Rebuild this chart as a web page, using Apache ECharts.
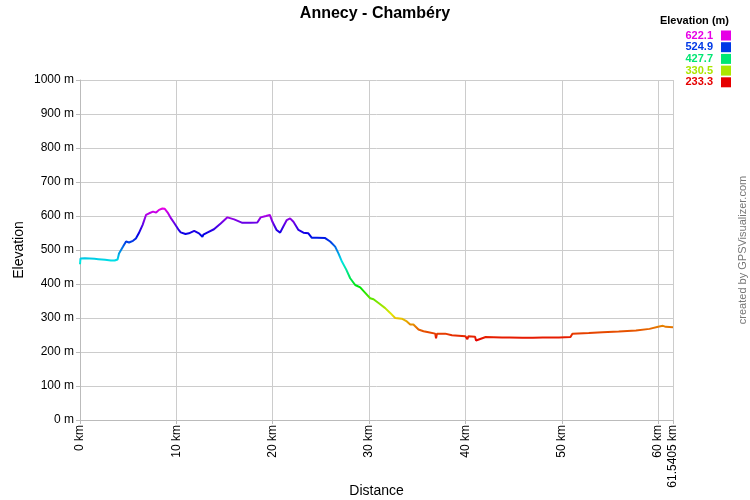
<!DOCTYPE html>
<html>
<head>
<meta charset="utf-8">
<script src="https://cdn.jsdelivr.net/npm/echarts@6/dist/echarts.min.js"></script>
<style>html,body{margin:0;padding:0;background:#fff}#c{width:750px;height:500px}</style>
</head>
<body>
<div id="c"></div>
<script>
const distanceKm = [0, 0.05, 0.5, 1.0, 1.5, 1.9, 2.0, 2.1, 2.6, 2.7, 2.8, 3.2, 3.6, 3.9, 4.05, 4.47, 4.78, 5.09, 5.5, 5.8, 6.1, 6.5, 6.85, 7.17, 7.58, 7.9, 8.2, 8.55, 8.8, 9.1, 9.45, 9.76, 10.2,
  10.45, 10.95, 11.3, 11.85, 12.35, 12.7, 12.8, 13.2, 13.9, 14.6, 15.3, 16.0, 16.85, 17.7, 18.4, 18.75, 19.3, 19.7, 19.97,
  20.07, 20.4, 20.77, 21.1, 21.46, 21.8, 22.15, 22.67, 23.19, 23.7, 24.06, 24.58, 25.44, 25.96, 26.48, 26.82, 27.18, 27.62, 28.04, 28.56, 29.08, 29.6, 30.11, 30.46,
  30.98, 31.67, 32.19, 32.71, 33.4, 33.92, 34.27, 34.6, 35.13, 35.65, 36.17, 36.86, 36.95, 37.05, 37.9, 38.6, 39.64, 40.0, 40.2, 40.3, 41.0, 41.1, 42.1, 43.8, 44.6, 44.7, 45.9, 47.0, 48.0, 49.7, 50.9,
  51.1, 52.8, 54.2, 55.9, 57.7, 59.1, 60.1, 60.5, 60.8, 61.5405];
const elevationM = [458, 475, 476, 475, 474, 473, 468, 474, 471, 466, 472, 469, 469, 472, 490, 510, 525, 522, 527, 534, 549, 574, 603, 608, 613, 610, 618, 622.1, 621, 610, 593, 580, 561,
  552, 547, 549, 556, 549, 539, 545, 551, 561, 578, 596, 590, 580, 580, 581, 596, 600, 603, 583,
  578, 559, 551, 569, 588, 593, 583, 559, 551, 549, 536, 536, 535, 525, 510, 490, 466, 443, 417, 397, 390, 374, 358, 355,
  344, 329, 315, 300, 298, 290, 281, 281, 266, 261, 258, 254, 240, 254, 254, 249, 247, 246, 238, 246, 245, 234, 244, 243, 243, 238, 242, 242, 243, 243, 244,
  254, 256, 258, 260, 263, 268, 275, 277, 274, 273];

const legendValues = [622.1, 524.9, 427.7, 330.5, 233.3];
const yTicks = [0, 100, 200, 300, 400, 500, 600, 700, 800, 900, 1000];
const xMax = 61.5405;

const hueColor = h => 'hsl(' + h + ',100%,45%)';
const rampColors = [];
for (let h = 0; h <= 300; h += 15) rampColors.push(hueColor(h));
const minE = legendValues[legendValues.length - 1], maxE = legendValues[0];
const legendColor = v => hueColor(Math.round(300 * (v - minE) / (maxE - minE)));

const data = distanceKm.map((d, i) => [d, elevationM[i]]);

const FONT = '"Liberation Sans", Arial, sans-serif';
const graphics = [
  { type: 'text', x: 729, y: 21, style: { text: 'Elevation (m)', font: 'bold 11px ' + FONT, fill: '#000', align: 'right', verticalAlign: 'middle' } }
];
legendValues.forEach((v, i) => {
  const yc = 35.5 + i * 11.7;
  graphics.push({ type: 'text', x: 713, y: yc, style: { text: v.toFixed(1), font: 'bold 11px ' + FONT, fill: legendColor(v), align: 'right', verticalAlign: 'middle' } });
  graphics.push({ type: 'rect', shape: { x: 721, y: yc - 5, width: 10, height: 10 }, style: { fill: legendColor(v) } });
});
graphics.push({ type: 'text', x: 748, y: 250, rotation: Math.PI / 2,
  style: { text: 'created by GPSVisualizer.com', font: '11px ' + FONT, fill: '#777', align: 'center', verticalAlign: 'bottom' } });

const chart = echarts.init(document.getElementById('c'), null, { renderer: 'canvas' });
chart.setOption({
  animation: false,
  backgroundColor: '#fff',
  title: { text: 'Annecy - Chambéry', left: 'center', top: 1,
    textStyle: { fontFamily: FONT, fontWeight: 'bold', fontSize: 16, color: '#000' } },
  grid: { left: 80, right: 77, top: 80, bottom: 80, containLabel: false, outerBoundsMode: 'none' },
  xAxis: {
    type: 'value', min: 0, max: xMax, interval: 10,
    name: 'Distance', nameLocation: 'middle', nameGap: 64, nameMoveOverlap: false,
    nameTextStyle: { fontFamily: FONT, fontSize: 14, color: '#000' },
    axisLine: { show: true, lineStyle: { color: '#bbb' } },
    axisTick: { show: true, length: 4, lineStyle: { color: '#bbb' } },
    axisLabel: { rotate: 90, margin: 5, color: '#000', fontFamily: FONT, fontSize: 12,
      showMinLabel: true, showMaxLabel: true,
      formatter: v => v + ' km' },
    splitLine: { show: true, lineStyle: { color: '#ccc' } }
  },
  yAxis: {
    type: 'value', min: yTicks[0], max: yTicks[yTicks.length - 1], interval: 100,
    name: 'Elevation', nameLocation: 'middle', nameGap: 54, nameMoveOverlap: false,
    nameTextStyle: { fontFamily: FONT, fontSize: 14, color: '#000' },
    axisLine: { show: true, lineStyle: { color: '#bbb' } },
    axisTick: { show: true, length: 4, lineStyle: { color: '#bbb' } },
    axisLabel: { margin: 6, color: '#000', fontFamily: FONT, fontSize: 12, formatter: v => v + ' m' },
    splitLine: { show: true, lineStyle: { color: '#ccc' } }
  },
  visualMap: {
    show: false, type: 'continuous', dimension: 1, seriesIndex: 0,
    min: minE, max: maxE, inRange: { color: rampColors }
  },
  series: [{
    type: 'line', data: data, showSymbol: false, symbol: 'none',
    lineStyle: { width: 2 }
  }],
  graphic: graphics
});
</script>
</body>
</html>
